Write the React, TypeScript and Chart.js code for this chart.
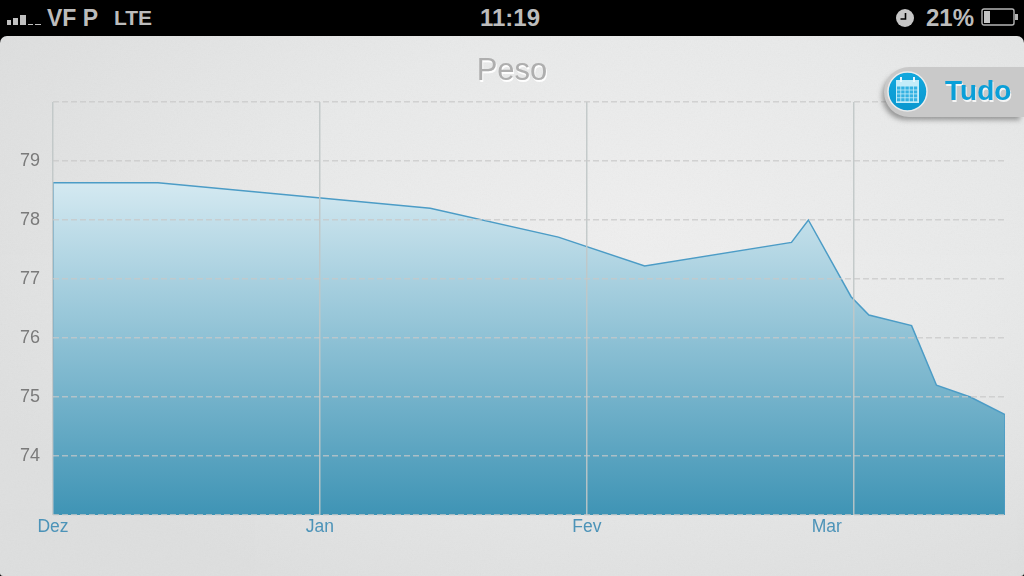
import React, { useEffect, useRef } from "react";
import { Chart, registerables } from "chart.js";

Chart.register(...registerables);

const monthLabels = ["Dez", "Jan", "Fev", "Mar"];
const days = [0, 0, 11.8, 42.4, 56.8, 66.5, 83, 84.9, 89.7, 91.7, 96.5, 99.3, 103.1, 107, 107];
const weights = [73, 78.63, 78.63, 78.2, 77.71, 77.22, 77.62, 78.0, 76.7, 76.39, 76.21, 75.2, 75.0, 74.7, 73];
const hiddenYTicks = [73, 80];
const daysPerMonth = 30;
const xMax = 107;
const yMin = 73;
const yMax = 80;
const titleText = "Peso";
const uiFont = '"Liberation Sans", Arial, sans-serif';

const abs = (left: number, top: number, extra: React.CSSProperties = {}): React.CSSProperties => ({
  position: "absolute",
  left,
  top,
  ...extra,
});

function StatusBar() {
  const bars = [
    [7, 20, 4, 5],
    [13, 18, 5, 7],
    [20, 15, 6, 10],
    [28, 24, 5, 1],
    [35, 24, 6, 1],
  ];
  const text: React.CSSProperties = {
    color: "#bcbcbc",
    fontFamily: uiFont,
    fontWeight: 700,
    fontSize: 24,
    lineHeight: "28px",
    whiteSpace: "nowrap",
  };
  return (
    <div style={abs(0, 0, { width: 1024, height: 36, background: "#000" })}>
      {bars.map(([l, t, w, h], i) => (
        <div key={i} style={abs(l, t, { width: w, height: h, background: "#c0c0c0" })} />
      ))}
      <div style={abs(47, 4, { ...text, fontSize: 23 })}>VF P</div>
      <div style={abs(114, 4, { ...text, fontSize: 21 })}>LTE</div>
      <div style={abs(480, 4, text)}>11:19</div>
      <div style={abs(926, 4, text)}>21%</div>
      <svg style={abs(896, 9)} width={18} height={18} viewBox="0 0 18 18">
        <circle cx={9} cy={9} r={9} fill="#c6c6c6" />
        <path d="M9.5 4 V10 H4.5" stroke="#000" strokeWidth={1.6} fill="none" />
      </svg>
      <svg style={abs(981, 8)} width={38} height={19} viewBox="0 0 38 19">
        <rect x={1} y={1} width={32} height={16} rx={2} fill="none" stroke="#b5b5b5" strokeWidth={1.4} />
        <rect x={3} y={3} width={6} height={12} fill="#c6c6c6" />
        <rect x={34} y={6} width={3} height={6} fill="#b5b5b5" />
      </svg>
    </div>
  );
}

function RangeButton() {
  const cells: React.ReactElement[] = [];
  for (let r = 0; r < 4; r++) {
    for (let c = 0; c < 5; c++) {
      cells.push(<rect key={`${r}-${c}`} x={10 + c * 4.2} y={15.5 + r * 3.9} width={3.4} height={3.1} fill="#35b2e2" />);
    }
  }
  return (
    <div style={abs(884, 67, { width: 140, height: 50 })}>
      <div
        style={abs(0, 0, {
          width: 140,
          height: 50,
          background: "#c9c9c9",
          borderRadius: "25px 0 0 25px",
          boxShadow: "-3px 4px 5px -1px rgba(85,85,85,0.55)",
        })}
      />
      <svg style={abs(3, 3.5)} width={41} height={41} viewBox="0 0 41 41">
        <defs>
          <linearGradient id="disc" x1="0" y1="0" x2="0" y2="1">
            <stop offset="0" stopColor="#12a8de" />
            <stop offset="1" stopColor="#0a97cf" />
          </linearGradient>
        </defs>
        <circle cx={20.5} cy={20.5} r={19.5} fill="url(#disc)" stroke="#ececec" strokeWidth={1.5} />
        <rect x={9} y={9} width={23} height={23} fill="#c4ecf9" />
        <rect x={13} y={6} width={2} height={5} fill="#eaf8fd" />
        <rect x={26} y={6} width={2} height={5} fill="#eaf8fd" />
        {cells}
      </svg>
      <div
        style={abs(61, 7, {
          color: "#0a9fd8",
          fontFamily: uiFont,
          fontWeight: 700,
          fontSize: 28,
          lineHeight: "34px",
          textShadow: "1px 2px 0 #f4f4f4",
        })}
      >
        Tudo
      </div>
    </div>
  );
}

export default function App() {
  const canvasRef = useRef<HTMLCanvasElement | null>(null);

  useEffect(() => {
    document.body.style.margin = "0";
    const canvas = canvasRef.current;
    if (!canvas) return;

    const chartTweaks = {
      id: "chartTweaks",
      beforeDraw(chart: any) {
        const block = chart.titleBlock;
        if (block && !block.__shadowed) {
          const draw = block.draw;
          block.draw = function (...args: any[]) {
            const c = chart.ctx;
            c.save();
            c.shadowColor = "rgba(255,255,255,0.95)";
            c.shadowOffsetX = 1;
            c.shadowOffsetY = 1.5;
            c.shadowBlur = 0;
            draw.apply(this, args);
            c.restore();
          };
          block.__shadowed = true;
        }
        // The last month label sits to the left of its grid line in the reference.
        const items = chart.scales.x.getLabelItems();
        const last = items[items.length - 1];
        if (last && !last.__shifted) {
          last.options.translation[0] -= 27;
          last.__shifted = true;
        }
      },
    };

    const chart = new Chart(canvas, {
      type: "line",
      data: {
        datasets: [
          {
            data: days.map((d, i) => ({ x: d, y: weights[i] })),
            borderColor: "#4c9cc6",
            borderWidth: 1.5,
            tension: 0,
            pointRadius: 0,
            fill: "start",
            backgroundColor: (ctx: any) => {
              const { chart: ch } = ctx;
              const area = ch.chartArea;
              if (!area) return "#7fb8d0";
              const top = ch.scales.y.getPixelForValue(Math.max(...weights.slice(1, -1)));
              const g = ch.ctx.createLinearGradient(0, top, 0, area.bottom);
              g.addColorStop(0, "#d4e9f1");
              g.addColorStop(1, "#3f94b5");
              return g;
            },
          },
        ],
      },
      options: {
        animation: false,
        responsive: false,
        maintainAspectRatio: false,
        layout: { padding: 0 },
        plugins: {
          legend: { display: false },
          tooltip: { enabled: false },
          title: {
            display: true,
            text: titleText,
            color: "#aeaeae",
            font: { family: uiFont, size: 31, weight: "normal", lineHeight: 1 },
            padding: { top: 56, bottom: 15 },
          },
        },
        scales: {
          x: {
            type: "linear",
            min: 0,
            max: xMax,
            afterFit: (s: any) => {
              s.height = 61;
            },
            grid: {
              z: 1,
              color: "rgba(192,198,198,0.9)",
              lineWidth: 1.5,
              drawTicks: false,
            },
            border: { display: false },
            ticks: {
              stepSize: daysPerMonth,
              includeBounds: false,
              autoSkip: false,
              maxRotation: 0,
              padding: 2,
              color: "#4c93b8",
              font: { family: uiFont, size: 17.5 },
              callback: (v: any) => monthLabels[Math.round(Number(v) / daysPerMonth)] ?? "",
            },
          },
          y: {
            min: yMin,
            max: yMax,
            afterFit: (s: any) => {
              s.width = 53;
            },
            grid: {
              z: 1,
              color: "rgba(200,200,200,0.75)",
              lineWidth: 1.6,
              drawTicks: false,
            },
            border: { display: false, dash: [6, 3] },
            ticks: {
              stepSize: 1,
              padding: 13,
              color: "#7a7a7a",
              font: { family: uiFont, size: 18 },
              callback: (v: any) => (hiddenYTicks.includes(Number(v)) ? "" : String(v)),
            },
          },
          pad: {
            type: "linear",
            position: "right",
            afterFit: (s: any) => {
              s.width = 19;
            },
            grid: { display: false },
            border: { display: false },
            ticks: { display: false },
          },
        },
      } as any,
      plugins: [chartTweaks],
    });
    return () => chart.destroy();
  }, []);

  return (
    <div style={{ position: "fixed", left: 0, top: 0, width: 1024, height: 576, background: "#000", overflow: "hidden" }}>
      <div
        style={abs(0, 36, {
          width: 1024,
          height: 540,
          borderRadius: "7px 7px 3px 3px",
          overflow: "hidden",
          background:
            "radial-gradient(ellipse 720px 400px at 640px 190px, #efefef 0%, #e9eaea 50%, #dedfdf 100%)",
        })}
      >
        <svg style={abs(0, 0)} width={1024} height={540}>
          <filter id="paper">
            <feTurbulence type="fractalNoise" baseFrequency="0.7" numOctaves={2} seed={3} />
            <feColorMatrix type="saturate" values="0" />
          </filter>
          <rect width={1024} height={540} filter="url(#paper)" opacity={0.05} />
        </svg>
      </div>
      <canvas ref={canvasRef} width={1024} height={576} style={abs(0, 0, { width: 1024, height: 576 })} />
      <StatusBar />
      <RangeButton />
    </div>
  );
}
